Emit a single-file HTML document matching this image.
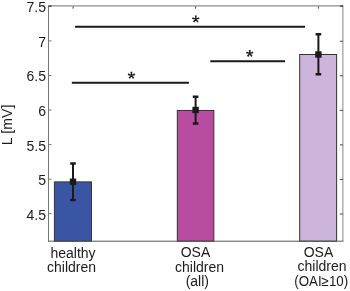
<!DOCTYPE html>
<html><head><meta charset="utf-8">
<style>
html,body{margin:0;padding:0;background:#fff;width:350px;height:291px;overflow:hidden}
svg{display:block;will-change:transform}
text{font-family:"Liberation Sans",sans-serif;fill:#1a1a1a}
</style></head>
<body>
<svg width="350" height="291" viewBox="0 0 350 291">
<rect x="0" y="0" width="350" height="291" fill="#fff"/>
<rect x="54.40" y="181.90" width="37.05" height="59.30" fill="#3b55a5" stroke="#333" stroke-width="1"/>
<rect x="177.30" y="110.45" width="36.55" height="130.75" fill="#b84ca0" stroke="#333" stroke-width="1"/>
<rect x="299.70" y="54.50" width="36.90" height="186.70" fill="#ccb4da" stroke="#333" stroke-width="1"/>

<g fill="none" stroke-width="1">
<path d="M48.5 5.9V241.2" stroke="#777"/>
<path d="M48 5.9H343.4" stroke="#8c8c8c" stroke-width="1.2"/>
<path d="M342.9 5.9V241.2" stroke="#888"/>
<path d="M48 241.2H343.4" stroke="#555"/>
<path d="M48.5 213.70h3 M48.5 179.15h3 M48.5 144.60h3 M48.5 110.05h3 M48.5 75.50h3 M48.5 40.95h3" stroke="#777"/>
<path d="M342.9 214.00h-3 M342.9 179.45h-3 M342.9 144.90h-3 M342.9 110.35h-3 M342.9 75.80h-3 M342.9 41.25h-3" stroke="#444"/>
<path d="M48.5 6.05h3 M342.9 6.05h-3" stroke="#333" stroke-width="1.2"/>
<path d="M73.1 6.5v2.2 M195.6 6.5v2.2 M318.45 6.5v2.2" stroke="#444"/>
</g>
<g font-size="14" text-anchor="end">
<text x="46" y="219.90">4.5</text>
<text x="46" y="185.28">5</text>
<text x="46" y="150.65">5.5</text>
<text x="46" y="116.03">6</text>
<text x="46" y="81.40">6.5</text>
<text x="46" y="46.77">7</text>
<text x="46" y="12.15">7.5</text>
</g>
<text font-size="14" transform="translate(11.8 124.9) rotate(-90)" text-anchor="middle" textLength="40.7" lengthAdjust="spacing">L [mV]</text>
<g font-size="14" text-anchor="middle">
<text x="73" y="257.5">healthy</text>
<text x="71.6" y="272.2">children</text>
<text x="195.5" y="257">OSA</text>
<text x="199.5" y="271.5">children</text>
<text x="197.3" y="286">(all)</text>
<text x="318.5" y="257">OSA</text>
<text x="322" y="271.4">children</text>
<text x="321.2" y="286" textLength="53.9" lengthAdjust="spacingAndGlyphs">(OAI≥10)</text>
</g>
<g stroke="#1a1a1a" stroke-width="2" fill="none">
<path d="M73.00 163.50V200.00"/><path stroke-width="2.5" d="M70.20 163.50h5.6 M70.20 200.00h5.6"/>
<path d="M195.60 96.80V123.40"/><path stroke-width="2.5" d="M192.80 96.80h5.6 M192.80 123.40h5.6"/>
<path d="M318.40 34.20V74.20"/><path stroke-width="2.5" d="M315.60 34.20h5.6 M315.60 74.20h5.6"/>
</g>
<g fill="#1a1a1a">
<rect x="69.80" y="178.55" width="6.4" height="6.4"/>
<rect x="192.40" y="106.80" width="6.4" height="6.4"/>
<rect x="315.20" y="51.30" width="6.4" height="6.4"/>
</g>
<g stroke="#1a1a1a" stroke-width="2">
<path d="M71.8 82.8H188.9"/>
<path d="M75.1 26.85H305"/>
<path d="M210.3 61.2H285"/>
</g>
<g fill="#1a1a1a"><path d="M131.90 75.35 L132.40 71.75 L130.50 71.75 L131.00 75.35Z M131.59 75.78 L135.17 75.14 L134.58 73.33 L131.31 74.92Z M131.09 75.61 L132.80 78.82 L134.33 77.70 L131.81 75.09Z M131.09 75.09 L128.57 77.70 L130.10 78.82 L131.81 75.61Z M131.59 74.92 L128.32 73.33 L127.73 75.14 L131.31 75.78Z"/><path d="M196.20 19.15 L196.70 15.55 L194.80 15.55 L195.30 19.15Z M195.89 19.58 L199.47 18.94 L198.88 17.13 L195.61 18.72Z M195.39 19.41 L197.10 22.62 L198.63 21.50 L196.11 18.89Z M195.39 18.89 L192.87 21.50 L194.40 22.62 L196.11 19.41Z M195.89 18.72 L192.62 17.13 L192.03 18.94 L195.61 19.58Z"/><path d="M250.20 53.50 L250.70 49.90 L248.80 49.90 L249.30 53.50Z M249.89 53.93 L253.47 53.29 L252.88 51.48 L249.61 53.07Z M249.39 53.76 L251.10 56.97 L252.63 55.85 L250.11 53.24Z M249.39 53.24 L246.87 55.85 L248.40 56.97 L250.11 53.76Z M249.89 53.07 L246.62 51.48 L246.03 53.29 L249.61 53.93Z"/></g>
</svg>
</body></html>
